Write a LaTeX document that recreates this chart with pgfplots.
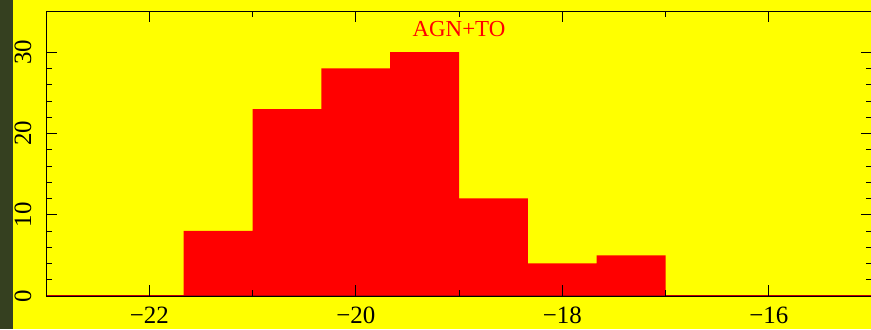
\documentclass[border=0pt]{standalone}
\usepackage{fontspec}
\setmainfont{Liberation Serif}
\usepackage{pgfplots}
\pgfplotsset{compat=1.18}

\definecolor{stripcol}{RGB}{53,64,32}
\definecolor{bgyellow}{RGB}{255,255,0}

\begin{document}
\begin{tikzpicture}[x=1bp,y=1bp]
  % page background and the dark strip on the left
  \fill[bgyellow] (0,0) rectangle (871,329);
  \fill[stripcol] (0,0) rectangle (13,329);
  \begin{axis}[
    at={(46bp,33bp)}, anchor=south west,
    scale only axis,
    width=826bp, height=284.5bp,
    xmin=-23, xmax=-15,
    ymin=0, ymax=35,
    axis line style={black, line width=0.8bp},
    xtick={-22,-20,-18,-16},
    xticklabels={−22,−20,−18,−16},
    minor x tick num=1,
    ytick={0,10,20,30},
    yticklabels={0,10,20,30},
    minor y tick num=4,
    major tick length=11bp,
    minor tick length=6bp,
    tick style={black, line width=0.8bp},
    tick align=inside,
    xticklabel style={font=\fontsize{25}{25}\selectfont, yshift=-7bp},
    yticklabel style={font=\fontsize{25}{25}\selectfont, rotate=90, anchor=south, yshift=11bp},
    axis on top,
  ]
    % luminosity histogram of the AGN+TO sample
    \addplot[ybar interval, fill=red, draw=none] coordinates {
      (-21.667,8) (-21.0,23) (-20.333,28) (-19.667,30)
      (-19.0,12) (-18.333,4) (-17.667,5) (-17.0,0)
    };
    \addplot[red!75!black, line width=1.2bp] coordinates {(-23,0) (-15,0)};
    \node[red, font=\fontsize{23}{23}\selectfont, anchor=base] at (axis cs:-19.0,31.9) {AGN+TO};
  \end{axis}
  \pgfresetboundingbox
  \path[use as bounding box] (0,0) rectangle (871,329);
\end{tikzpicture}
\end{document}
